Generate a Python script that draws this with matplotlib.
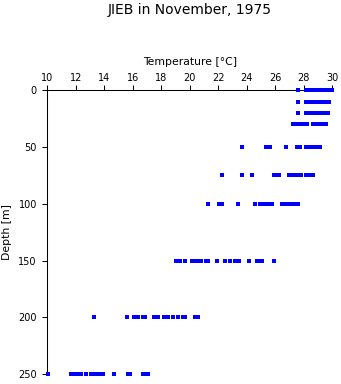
import matplotlib
matplotlib.use("Agg")
import matplotlib.pyplot as plt

# profundidades (m) y temperaturas (°C)
depths = [0, 10, 20, 30, 50, 75, 100, 150, 200, 250]

t_0 = [27.6, 28.15, 28.25, 28.4, 28.5, 28.6, 28.7, 28.8, 28.9, 29.0, 29.1,
       29.2, 29.3, 29.4, 29.5, 29.6, 29.7, 29.8, 29.9, 29.97]
t_10 = [27.6, 28.15, 28.25, 28.35, 28.45, 28.6, 28.7, 28.8, 28.9, 29.0, 29.1,
        29.2, 29.3, 29.4, 29.5, 29.6, 29.7, 29.8]
t_20 = [27.6, 28.15, 28.3, 28.4, 28.6, 28.7, 28.8, 28.9, 29.0, 29.1, 29.2,
        29.3, 29.4, 29.5, 29.65, 29.75]
t_30 = [27.25, 27.35, 27.45, 27.55, 27.65, 27.75, 28.05, 28.15, 28.25,
        28.65, 28.75, 28.85, 28.95, 29.05, 29.15, 29.25, 29.45, 29.6]
t_50 = [23.7, 25.35, 25.45, 25.55, 25.65, 26.8, 27.55, 27.65, 27.75, 28.2,
        28.45, 28.55, 28.65, 28.75, 28.85, 28.95, 29.05, 29.15]
t_75 = [22.3, 23.7, 24.35, 25.9, 26.15, 26.3, 26.95, 27.1, 27.2, 27.3,
        27.55, 27.7, 27.8, 28.15, 28.25, 28.35, 28.45, 28.55, 28.65]
t_100 = [21.3, 22.05, 22.15, 22.3, 23.4, 24.6, 24.95, 25.05, 25.15, 25.3,
         25.45, 25.55, 25.65, 25.8, 26.5, 26.6, 26.7, 26.8, 26.9,
         27.15, 27.25, 27.35, 27.45, 27.6]
t_150 = [19.05, 19.15, 19.3, 19.7, 20.2, 20.45, 20.55, 20.65, 20.8, 21.15,
         21.3, 21.9, 22.5, 22.8, 23.2, 23.3, 23.45, 24.2, 24.7, 24.95,
         25.05, 25.95]
t_200 = [13.3, 15.6, 16.1, 16.4, 16.7, 16.85, 17.5, 17.6, 17.75, 18.2,
         18.5, 18.8, 19.2, 19.55, 19.7, 20.35, 20.5, 20.6]
t_250 = [10.05, 11.7, 11.95, 12.1, 12.25, 12.4, 12.7, 13.1, 13.2, 13.35,
         13.5, 13.6, 13.75, 13.9, 14.7, 15.7, 15.8, 16.7, 16.8, 17.1]

temps = [t_0, t_10, t_20, t_30, t_50, t_75, t_100, t_150, t_200, t_250]

fig = plt.figure(figsize=(3.41, 3.84), dpi=100)
ax = fig.add_axes([0.1387, 0.0253, 0.8349, 0.7396])

for d, t in zip(depths, temps):
    ax.plot(t, [d] * len(t), linestyle="none", marker="s", markersize=2.3,
            markeredgewidth=0, color="#0000ff", clip_on=False, zorder=5)

ax.set_xlim(10, 30)
ax.set_ylim(250, 0)
ax.set_xticks(range(10, 31, 2))
ax.set_yticks([0, 50, 100, 150, 200, 250])

ax.xaxis.tick_top()
ax.xaxis.set_label_position("top")
ax.spines["right"].set_visible(False)
ax.spines["bottom"].set_visible(False)
for s in ["top", "left"]:
    ax.spines[s].set_linewidth(0.75)

ax.tick_params(axis="x", direction="out", length=3.5, width=0.75, pad=2,
               labelsize=7)
ax.tick_params(axis="y", direction="out", length=3.5, width=0.75, pad=4,
               labelsize=7)

ax.set_xlabel("Temperature [°C]", fontsize=7.8)
ax.xaxis.set_label_coords(0.5, 1.09)
ax.set_ylabel("Depth [m]", fontsize=7.8)
ax.yaxis.set_label_coords(-0.125, 0.5)

fig.text(0.5565, 1 - 14 / 384, "JIEB in November, 1975", ha="center",
         va="baseline", fontsize=10)

fig.savefig("out.png", dpi=100)
